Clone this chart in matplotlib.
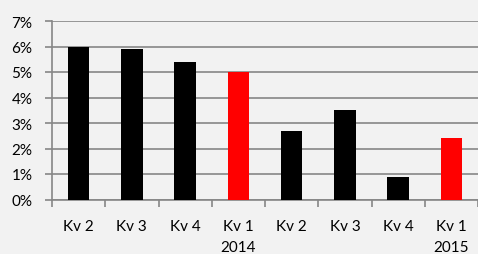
import numpy as np
import matplotlib.pyplot as plt
from matplotlib.ticker import FuncFormatter

# kvartal och värden (procent)
kvartal = ["Kv 2", "Kv 3", "Kv 4", "Kv 1\n2014", "Kv 2", "Kv 3", "Kv 4", "Kv 1\n2015"]
varden = [6.0, 5.9, 5.4, 5.0, 2.7, 3.5, 0.9, 2.4]
farger = ["black", "black", "black", "red", "black", "black", "black", "red"]

plt.rcParams['font.family'] = ['Lato', 'DejaVu Sans']

fig = plt.figure(figsize=(4.78, 2.55), dpi=100, facecolor="#f2f2f2")
ax = fig.add_axes([52 / 478, 1 - 200.5 / 255, 1 - 52 / 478, (200.5 - 22) / 255])
ax.set_facecolor("#f2f2f2")

x = np.arange(len(varden))
ax.bar(x, varden, width=0.4, color=farger, zorder=3)

ax.set_xlim(-0.5, len(varden) - 0.5)
ax.set_ylim(0, 7)
ax.set_yticks(np.arange(0, 8, 1))
ax.yaxis.set_major_formatter(FuncFormatter(lambda v, p: f"{int(v)}%"))
ax.grid(axis="y", color="#878787", linewidth=1.2, zorder=0)

ax.set_xticks(x)
ax.set_xticklabels(kvartal, linespacing=1.6)
ax.set_xticks(np.arange(-0.5, len(varden), 1), minor=True)
ax.tick_params(axis="x", which="major", length=0, pad=14, labelsize=11, colors="black")
ax.tick_params(axis="x", which="minor", length=5, width=1.2, color="#878787", direction="out")
ax.tick_params(axis="y", length=5, width=1.2, color="#878787", pad=9, labelsize=11)

for s in ["top", "right"]:
    ax.spines[s].set_visible(False)
for s in ["left", "bottom"]:
    ax.spines[s].set_color("#878787")
    ax.spines[s].set_linewidth(1.2)

fig.savefig("out.png", dpi=100, facecolor="#f2f2f2")
